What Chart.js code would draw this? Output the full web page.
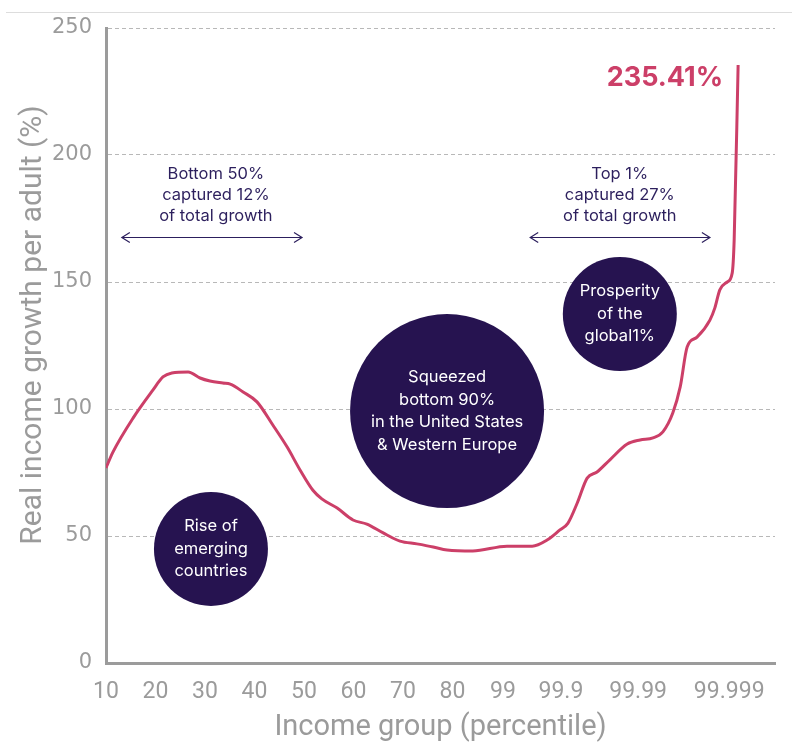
<!DOCTYPE html>
<html>
<head>
<meta charset="utf-8">
<script src="https://cdn.jsdelivr.net/npm/chart.js@4/dist/chart.umd.min.js"></script>
<style>
  html, body { margin: 0; padding: 0; background: #fff; }
  #wrap { width: 792px; height: 744px; }
</style>
</head>
<body>
<div id="wrap"><canvas id="myChart" width="792" height="744"></canvas></div>
<script>
// x axis: tick labels and where they sit on the (non-linear) percentile axis
const xLabels = ['10', '20', '30', '40', '50', '60', '70', '80', '99', '99.9', '99.99', '99.999'];
const xTickPos = [10, 20, 30, 40, 50, 60, 70, 80, 90.2, 101.9, 117.5, 135.9];

// elephant curve (x in axis units, y in %)
const curveX = [10, 11.4, 15.5, 19.5, 21.5, 23.3, 26.6, 29, 31, 33.6, 35.1, 37.7, 40.5, 43.7, 46.6, 49.2,
  51.8, 53.6, 56.7, 59.9, 62.7, 66, 69.4, 72.8, 76.1, 78.9, 84.1, 91, 96.1, 99.1, 101.7, 103.3,
  105.2, 107.2, 109.2, 111.8, 115.3, 117.9, 120.5, 122.5, 124.5, 126, 127.4, 129.4, 132, 133,
  134, 135.5, 136.5, 136.9, 137.7];
const curveY = [76.8, 83, 96.5, 107.5, 112.6, 114.2, 114.6, 112.2, 111, 110.2, 109.8, 106.7, 102.8, 93.7, 85, 76,
  68, 64.6, 61, 56.3, 54.7, 51.2, 48, 46.9, 45.7, 44.5, 44.1, 46, 46, 48.4, 52.4, 55,
  63, 72.8, 75.2, 80, 86.2, 87.8, 88.6, 91, 98.4, 108.7, 124.4, 128.3, 135, 139.8,
  146.9, 150, 153.5, 166.5, 235.41];

const peakLabel = '235.41%';
const yTitle = 'Real income growth per adult (%)';

const bubbles = [
  { x: 31.2, y: 44.9, r: 57, lines: ['Rise of', 'emerging', 'countries'] },
  { x: 78.9, y: 99.2, r: 97, lines: ['Squeezed', 'bottom 90%', 'in the United States', '& Western Europe'] },
  { x: 113.8, y: 137.4, r: 57, lines: ['Prosperity', 'of the', 'global1%'] }
];

const notes = [
  { x: 32.2, y: 192.5, from: 13.2, to: 49.6, arrowY: 167.7, lines: ['Bottom 50%', 'captured 12%', 'of total growth'] },
  { x: 113.8, y: 192.5, from: 95.7, to: 132, arrowY: 167.7, lines: ['Top 1%', 'captured 27%', 'of total growth'] }
];

const lineColor = '#cc3f68';
const purple = '#261350';
const axisGray = '#9b9b9b';

const extras = {
  id: 'extras',
  afterDatasetsDraw(chart) {
    const ctx = chart.ctx;
    const xs = chart.scales.x, ys = chart.scales.y;
    ctx.save();

    // separator line under the (cropped) heading
    ctx.strokeStyle = '#dddddd';
    ctx.lineWidth = 1;
    ctx.beginPath();
    ctx.moveTo(6, 12.5);
    ctx.lineTo(792, 12.5);
    ctx.stroke();

    // y axis title, a bit above the middle like the original
    ctx.save();
    ctx.translate(33, 325);
    ctx.rotate(-Math.PI / 2);
    ctx.fillStyle = axisGray;
    ctx.font = '30px Roboto';
    ctx.textAlign = 'center';
    ctx.textBaseline = 'middle';
    ctx.fillText(yTitle, 0, 0);
    ctx.restore();

    // circles
    bubbles.forEach(b => {
      const cx = xs.getPixelForValue(b.x), cy = ys.getPixelForValue(b.y);
      ctx.fillStyle = purple;
      ctx.beginPath();
      ctx.arc(cx, cy, b.r, 0, Math.PI * 2);
      ctx.fill();
      ctx.fillStyle = '#ffffff';
      ctx.font = '16.5px Inter';
      ctx.textAlign = 'center';
      ctx.textBaseline = 'middle';
      const lh = 22.5;
      const y0 = cy - (b.lines.length - 1) * lh / 2;
      b.lines.forEach((t, i) => ctx.fillText(t, cx, y0 + i * lh));
    });

    // notes with double arrows
    notes.forEach(n => {
      const cx = xs.getPixelForValue(n.x), cy = ys.getPixelForValue(n.y);
      ctx.fillStyle = '#2c1f5d';
      ctx.font = '16.5px Inter';
      ctx.textAlign = 'center';
      ctx.textBaseline = 'middle';
      n.lines.forEach((t, i) => ctx.fillText(t, cx, cy + i * 21));
      const x1 = xs.getPixelForValue(n.from), x2 = xs.getPixelForValue(n.to);
      const ay = Math.round(ys.getPixelForValue(n.arrowY)) + 0.5;
      ctx.strokeStyle = '#2c1f5d';
      ctx.lineWidth = 1.2;
      ctx.beginPath();
      ctx.moveTo(x1, ay); ctx.lineTo(x2, ay);
      ctx.moveTo(x1 + 8, ay - 5); ctx.lineTo(x1, ay); ctx.lineTo(x1 + 8, ay + 5);
      ctx.moveTo(x2 - 8, ay - 5); ctx.lineTo(x2, ay); ctx.lineTo(x2 - 8, ay + 5);
      ctx.stroke();
    });

    // peak value label
    const meta = chart.getDatasetMeta(0);
    const last = meta.data[meta.data.length - 1];
    ctx.fillStyle = lineColor;
    ctx.font = 'bold 27px Inter';
    ctx.textAlign = 'right';
    ctx.textBaseline = 'middle';
    ctx.fillText(peakLabel, last.x - 15, last.y + 13);
    ctx.restore();
  }
};

const ctx = document.getElementById('myChart').getContext('2d');
const myChart = new Chart(ctx, {
  type: 'line',
  data: {
    datasets: [{
      label: 'Real income growth',
      data: curveX.map((x, i) => ({ x: x, y: curveY[i] })),
      borderColor: lineColor,
      borderWidth: 3,
      pointRadius: 0,
      fill: false,
      cubicInterpolationMode: 'monotone'
    }]
  },
  options: {
    responsive: false,
    animation: false,
    layout: { padding: { top: 28, right: 17, left: 0, bottom: 0 } },
    scales: {
      x: {
        type: 'linear',
        min: 10,
        max: 145.15,
        afterBuildTicks: scale => { scale.ticks = xTickPos.map(v => ({ value: v })); },
        afterFit: scale => { scale.height = 81; },
        grid: { display: false, drawTicks: false },
        border: { display: true, color: axisGray, width: 3 },
        ticks: {
          autoSkip: false,
          maxRotation: 0,
          padding: 15,
          color: axisGray,
          font: { family: 'Roboto', size: 23 },
          callback: (v, i) => xLabels[i]
        },
        title: {
          display: true,
          text: 'Income group (percentile)',
          color: axisGray,
          font: { family: 'Roboto', size: 29 },
          padding: { top: 0, bottom: -1 }
        }
      },
      y: {
        min: 0,
        max: 250,
        afterFit: scale => { scale.width = 106; },
        grid: {
          drawTicks: false,
          lineWidth: 1,
          color: c => c.tick.value === 0 ? 'rgba(0,0,0,0)' : '#b8b8b8'
        },
        border: { display: true, color: axisGray, width: 3, dash: [4, 3] },
        ticks: {
          stepSize: 50,
          padding: 14,
          color: axisGray,
          font: { family: 'DejaVu Sans', size: 21 }
        },
        title: { display: false }
      }
    },
    plugins: {
      legend: { display: false },
      tooltip: { enabled: false }
    }
  },
  plugins: [extras]
});
</script>
</body>
</html>
